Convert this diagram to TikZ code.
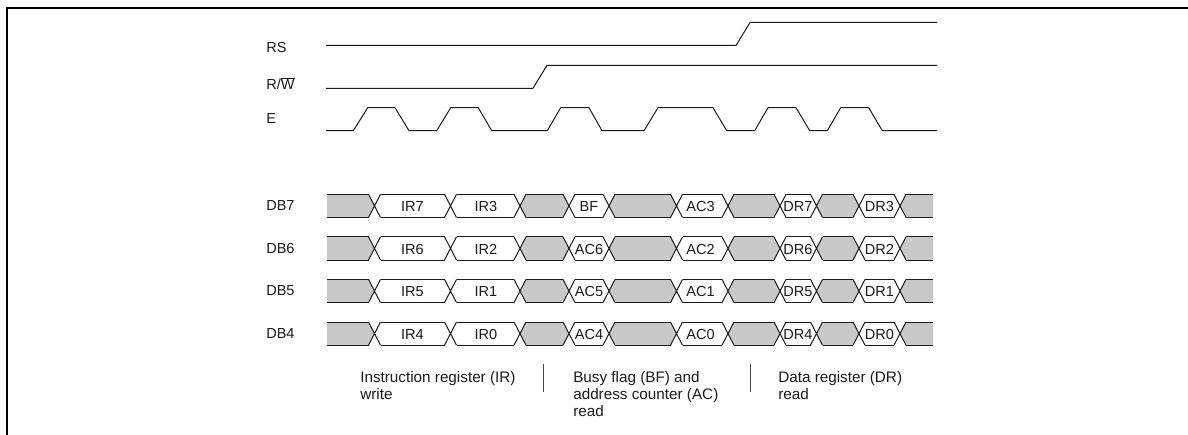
\documentclass[tikz,border=0pt]{standalone}
\usepackage{fontspec}
\setmainfont{Liberation Sans}
\definecolor{busgray}{HTML}{C9C9C9}
\definecolor{ink}{HTML}{1A1A1A}
\tikzset{
  sigline/.style={draw=ink,line width=0.75pt,line join=round},
  frameline/.style={draw=black,line width=1.5pt},
  sigtext/.style={inner sep=0pt,anchor=west,text=ink,font=\fontsize{10.9}{12.75}\selectfont},
  celltext/.style={inner sep=0pt,anchor=center,text=ink,font=\fontsize{10.9}{12.75}\selectfont},
  notetext/.style={inner sep=0pt,anchor=north west,align=left,text=ink,font=\fontsize{11.45}{12.75}\selectfont},
  separator/.style={draw=ink!80,line width=0.75pt}
}
\newcommand{\busrow}[8]{%
  \pgfmathsetmacro{\rowt}{#1}
  \pgfmathsetmacro{\rowb}{#1+23.2}
  \pgfmathsetmacro{\rowm}{#1+11.6}
  % undefined (grey) stretches
  \fill[busgray] (327,\rowt) -- (368.5,\rowt) -- (374.5,\rowm) -- (368.5,\rowb) -- (327,\rowb) -- cycle;
  \foreach \ca/\cb in {520/569,609/676.5,728/780,816.5/859}{
    \fill[busgray] ({\ca+6},\rowt) -- ({\cb-6},\rowt) -- (\cb,\rowm) -- ({\cb-6},\rowb) -- ({\ca+6},\rowb) -- (\ca,\rowm) -- cycle;
  }
  \fill[busgray] (933,\rowt) -- (906,\rowt) -- (900,\rowm) -- (906,\rowb) -- (933,\rowb) -- cycle;
  % outlines
  \draw[sigline] (327,\rowt) -- (368.5,\rowt) (327,\rowb) -- (368.5,\rowb);
  \draw[sigline] (906,\rowt) -- (933,\rowt) (906,\rowb) -- (933,\rowb);
  \foreach \ca/\cb in {374.5/450.5,450.5/520,520/569,569/609,609/676.5,676.5/728,728/780,780/816.5,816.5/859,859/900}{
    \draw[sigline] ({\ca+6},\rowt) -- ({\cb-6},\rowt) ({\ca+6},\rowb) -- ({\cb-6},\rowb);
  }
  \foreach \cx in {374.5,450.5,520,569,609,676.5,728,780,816.5,859,900}{
    \draw[sigline] ({\cx-6},\rowt) -- ({\cx+6},\rowb) ({\cx-6},\rowb) -- ({\cx+6},\rowt);
  }
  % labels
  \node[sigtext] (#2) at (266,\rowm) {#2};
  \node[celltext] (#3) at (412.5,\rowm+0.6) {#3};
  \node[celltext] (#4) at (486,\rowm+0.6) {#4};
  \node[celltext] (#5) at (589,\rowm+0.6) {#5};
  \node[celltext] (#6) at (700.5,\rowm+0.6) {#6};
  \node[celltext] (#7) at (798,\rowm+0.6) {#7};
  \node[celltext] (#8) at (879.5,\rowm+0.6) {#8};
}
\begin{document}
\begin{tikzpicture}[x=0.75pt,y=-0.75pt]
\useasboundingbox (0,0) rectangle (1188,435);
% frame
\draw[frameline] (7,435) -- (7,7.7) -- (1188,7.7);
% control signals
\node[sigtext] (RS) at (266,47.7) {RS};
\node[sigtext] (RW) at (266,83.5) {R/$\overline{\mbox{W}}$};
\node[sigtext] (E) at (266,118.3) {E};
\draw[sigline] (326,45.5) -- (736,45.5) -- (750,22.5) -- (937,22.5);
\draw[sigline] (326,88.3) -- (533,88.3) -- (547,65.3) -- (937,65.3);
\draw[sigline] (326,130.7) -- (353.3,130.7) -- (367.7,107.7) -- (395,107.7) -- (409,130.7)
  -- (436.7,130.7) -- (450.7,107.7) -- (478.3,107.7) -- (491.7,130.7)
  -- (547.3,130.7) -- (560.7,107.7) -- (589,107.7) -- (602,130.7)
  -- (644,130.7) -- (658,107.7) -- (713,107.7) -- (726.7,130.7)
  -- (754.7,130.7) -- (768,107.7) -- (796,107.7) -- (809.7,130.7)
  -- (827.3,130.7) -- (840.7,107.7) -- (868.7,107.7) -- (882.3,130.7) -- (937,130.7);
% data buses
\busrow{194.3}{DB7}{IR7}{IR3}{BF}{AC3}{DR7}{DR3}
\busrow{236.8}{DB6}{IR6}{IR2}{AC6}{AC2}{DR6}{DR2}
\busrow{279.4}{DB5}{IR5}{IR1}{AC5}{AC1}{DR5}{DR1}
\busrow{322}{DB4}{IR4}{IR0}{AC4}{AC0}{DR4}{DR0}
% notes
\node[notetext] (noteIR) at (360,370.7) {Instruction register (IR)\\write};
\node[notetext] (noteAC) at (573,370.7) {Busy flag (BF) and\\address counter (AC)\\read};
\node[notetext] (noteDR) at (778,370.7) {Data register (DR)\\read};
\coordinate (sepAtop) at (543.3,364);
\coordinate (sepAbot) at (543.3,392);
\coordinate (sepBtop) at (750.7,364);
\coordinate (sepBbot) at (750.7,392);
\draw[separator] (sepAtop) -- (sepAbot);
\draw[separator] (sepBtop) -- (sepBbot);
\end{tikzpicture}
\end{document}
